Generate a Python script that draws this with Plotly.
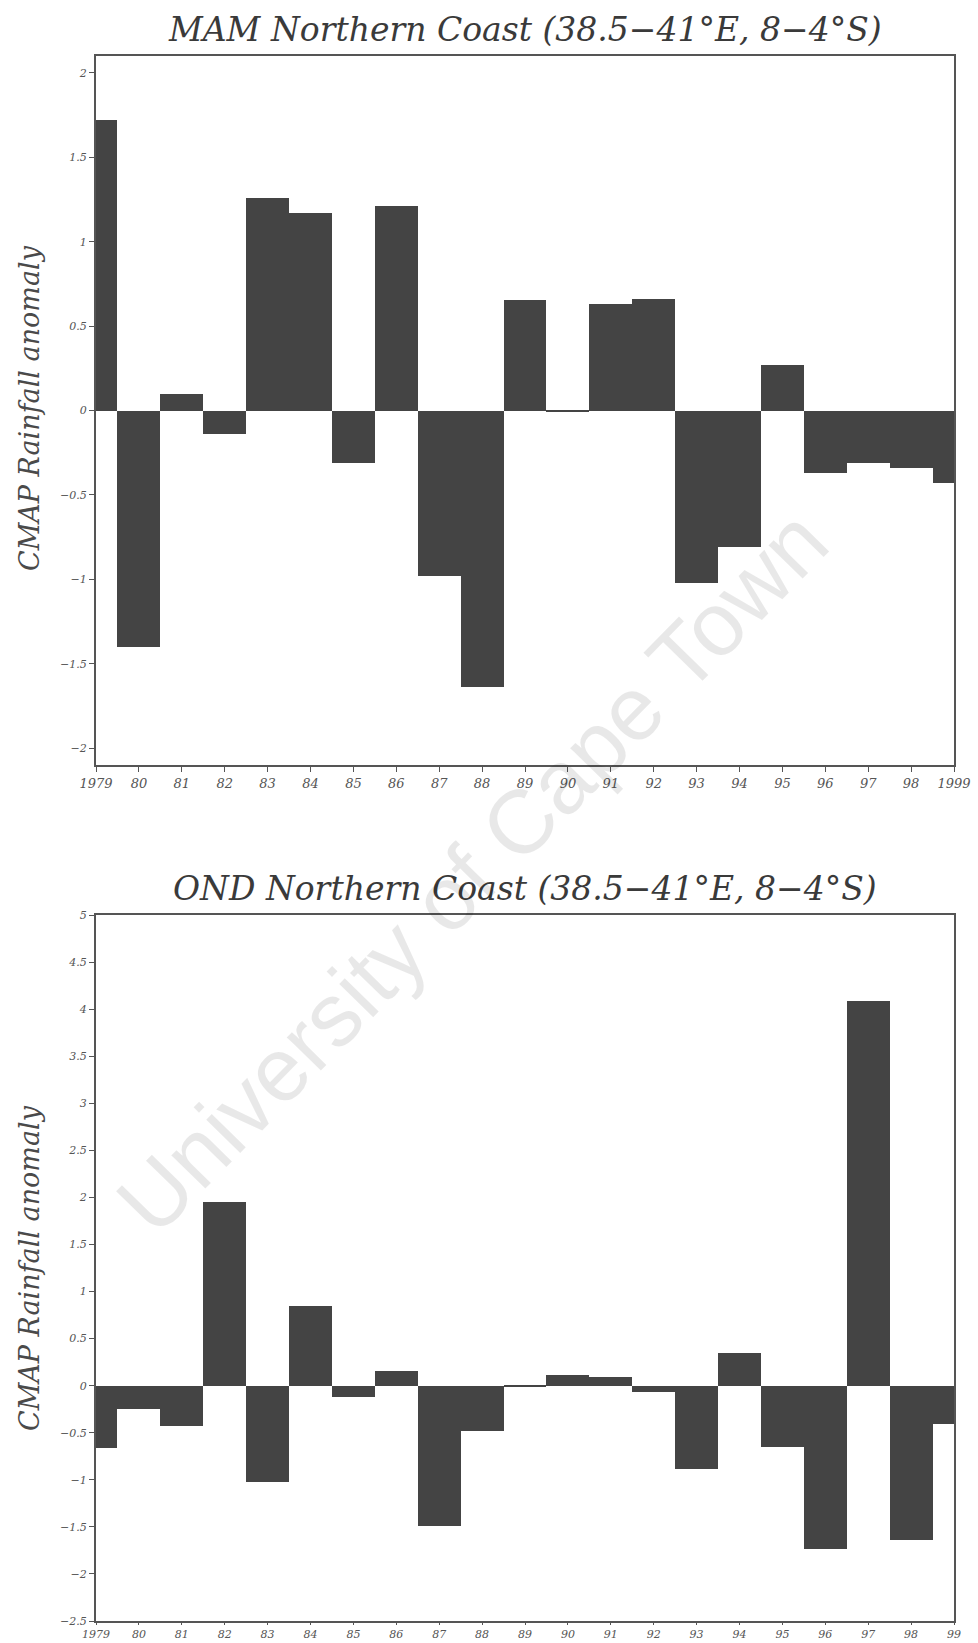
import plotly.graph_objects as go

years = list(range(1979, 2000))

mam_anom = [1.72, -1.40, 0.10, -0.14, 1.26, 1.17, -0.31, 1.21, -0.98, -1.64,
            0.655, -0.005, 0.63, 0.66, -1.02, -0.81, 0.27, -0.37, -0.31, -0.34, -0.43]
ond_anom = [-0.66, -0.25, -0.43, 1.95, -1.02, 0.85, -0.12, 0.16, -1.49, -0.48,
            -0.01, 0.11, 0.09, -0.07, -0.88, 0.35, -0.65, -1.74, 4.09, -1.64, -0.41]

mam_xticktext = ["1979", "80", "81", "82", "83", "84", "85", "86", "87", "88", "89",
                 "90", "91", "92", "93", "94", "95", "96", "97", "98", "1999"]
ond_xticktext = ["1979", "80", "81", "82", "83", "84", "85", "86", "87", "88", "89",
                 "90", "91", "92", "93", "94", "95", "96", "97", "98", "99"]

mam_yticks = [-2, -1.5, -1, -0.5, 0, 0.5, 1, 1.5, 2]
ond_yticks = [-2.5, -2, -1.5, -1, -0.5, 0, 0.5, 1, 1.5, 2, 2.5, 3, 3.5, 4, 4.5, 5]

mam_title = "MAM Northern Coast (38.5\u221241\u00b0E, 8\u22124\u00b0S)"
ond_title = "OND Northern Coast (38.5\u221241\u00b0E, 8\u22124\u00b0S)"
ylabel = "CMAP Rainfall anomaly"
watermark = "University of Cape Town"

W, H = 978, 1643
BAR = "#444444"
SERIF = "DejaVu Serif"

def px(x):
    return x / W

def py(y):
    return 1 - y / H

fig = go.Figure()
fig.add_trace(go.Bar(x=years, y=mam_anom, width=1, marker=dict(color=BAR, line=dict(width=0)),
                     xaxis="x", yaxis="y", showlegend=False))
fig.add_trace(go.Bar(x=years, y=ond_anom, width=1, marker=dict(color=BAR, line=dict(width=0)),
                     xaxis="x2", yaxis="y2", showlegend=False))

xdom = [px(96), px(954)]
axis_common = dict(showgrid=False, zeroline=False, showline=True, mirror=True,
                   linecolor="#555555", linewidth=2, ticks="outside",
                   tickcolor="#555555", automargin=False)
xfont = dict(family=SERIF, size=13, color="#555555", style="italic")
xfont2 = dict(family=SERIF, size=11, color="#555555", style="italic")
yfont = dict(family=SERIF, size=11, color="#555555", style="italic")

fig.update_layout(
    width=W, height=H,
    margin=dict(l=0, r=0, t=0, b=0, pad=0, autoexpand=False),
    paper_bgcolor="white", plot_bgcolor="white",
    bargap=0,
    xaxis=dict(domain=xdom, anchor="y", range=[1979, 1999], tickvals=years, ticklen=5,
               ticktext=mam_xticktext, tickfont=xfont, tickangle=0, **axis_common),
    yaxis=dict(domain=[py(765), py(56)], anchor="x", range=[-2.1, 2.1], ticklen=5,
               tickvals=mam_yticks, tickfont=yfont, **axis_common),
    xaxis2=dict(domain=xdom, anchor="y2", range=[1979, 1999], tickvals=years, ticklen=2,
                ticktext=ond_xticktext, tickfont=xfont2, tickangle=0, **axis_common),
    yaxis2=dict(domain=[py(1621), py(915)], anchor="x2", range=[-2.5, 5.0], ticklen=5,
                tickvals=ond_yticks, tickfont=yfont, **axis_common),
)

tfont = dict(family=SERIF, size=33, color="#3a3a3a", style="italic")
lfont = dict(family=SERIF, size=27, color="#4a4a4a", style="italic")
fig.add_annotation(text=mam_title, x=px(525), y=py(29), xref="paper", yref="paper",
                   xanchor="center", yanchor="middle", showarrow=False, font=tfont)
fig.add_annotation(text=ond_title, x=px(525), y=py(888), xref="paper", yref="paper",
                   xanchor="center", yanchor="middle", showarrow=False, font=tfont)
fig.add_annotation(text=ylabel, x=px(29), y=py(408), xref="paper", yref="paper",
                   xanchor="center", yanchor="middle", textangle=-90, showarrow=False, font=lfont)
fig.add_annotation(text=ylabel, x=px(29), y=py(1268), xref="paper", yref="paper",
                   xanchor="center", yanchor="middle", textangle=-90, showarrow=False, font=lfont)
fig.add_annotation(text=watermark, x=px(472), y=py(872), xref="paper", yref="paper",
                   xanchor="center", yanchor="middle", textangle=-45.6, showarrow=False,
                   font=dict(family="Liberation Sans", size=90, color="rgba(0,0,0,0.09)"))

fig.write_html("out.html")
